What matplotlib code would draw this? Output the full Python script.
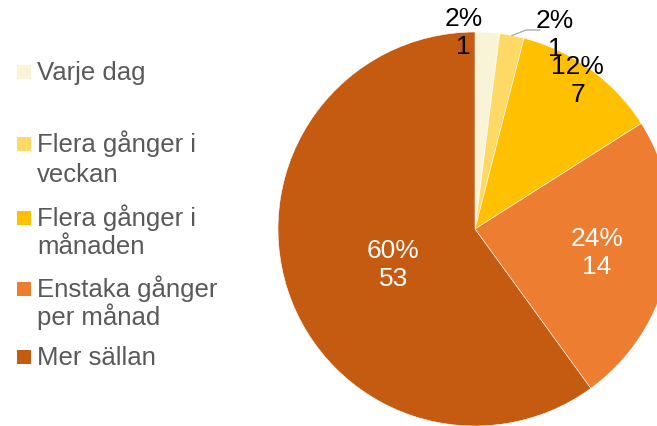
import numpy as np
import matplotlib
matplotlib.use("Agg")
import matplotlib.pyplot as plt
from matplotlib.patches import Rectangle

# ---- data ----
categories = ["Varje dag", "Flera gånger i\nveckan", "Flera gånger i\nmånaden",
              "Enstaka gånger\nper månad", "Mer sällan"]
percent = [2, 2, 12, 24, 60]
counts = [1, 1, 7, 14, 53]
colors = ["#FAF4D6", "#FFD966", "#FFC000", "#ED7D31", "#C55A11"]
label_colors = ["black", "black", "black", "white", "white"]

plt.rcParams['font.family'] = ['Liberation Sans', 'DejaVu Sans']

W, H = 657, 427
fig = plt.figure(figsize=(W / 100, H / 100), dpi=100)

# pie axes: centre (475,230) px, radius 197 px
cx, cy, R = 475, 230, 197
ax = fig.add_axes([(cx - R) / W, (H - cy - R) / H, 2 * R / W, 2 * R / H])

wedges, _ = ax.pie(percent, colors=colors, startangle=90, counterclock=False,
                   radius=1.0, wedgeprops=dict(edgecolor='white', linewidth=0.4))
ax.set_xlim(-1, 1)
ax.set_ylim(-1, 1)
ax.set_aspect('equal')
ax.axis('off')
for w in wedges:
    w.set_clip_on(False)

# label placement (radius, angle offset) per slice
lab_r = [1.0, 1.07, 0.92, 0.63, 0.45]
lab_da = [7.0, -11.5, 1.5, 0.0, 5.0]
total = sum(percent)
start = 90.0
for i, (p, c) in enumerate(zip(percent, counts)):
    span = 360.0 * p / total
    mid = start - span / 2
    start -= span
    a = np.deg2rad(mid + lab_da[i])
    x, y = lab_r[i] * np.cos(a), lab_r[i] * np.sin(a)
    ax.text(x, y, f"{p}%\n{c}", ha='center', va='center', fontsize=19,
            color=label_colors[i], linespacing=1.2, clip_on=False)
    if i == 1:
        am = np.deg2rad(mid)
        ax.plot([np.cos(am) * 1.0, 0.26, 0.33], [np.sin(am) * 1.0, 1.01, 1.01],
                color='#A6A6A6', lw=0.9, clip_on=False)

# legend (manual)
baselines = [[80], [152, 182], [226, 254], [297, 325], [365]]
for lab, col, bl in zip(categories, colors, baselines):
    fig.patches.append(Rectangle((17 / W, (H - bl[0]) / H), 14 / W, 14 / H,
                                 transform=fig.transFigure, facecolor=col,
                                 edgecolor='none'))
    for line, b in zip(lab.split("\n"), bl):
        fig.text(37 / W, (H - b) / H, line, fontsize=18.5, color='#595959',
                 ha='left', va='baseline')

fig.savefig("out.png", dpi=100)
